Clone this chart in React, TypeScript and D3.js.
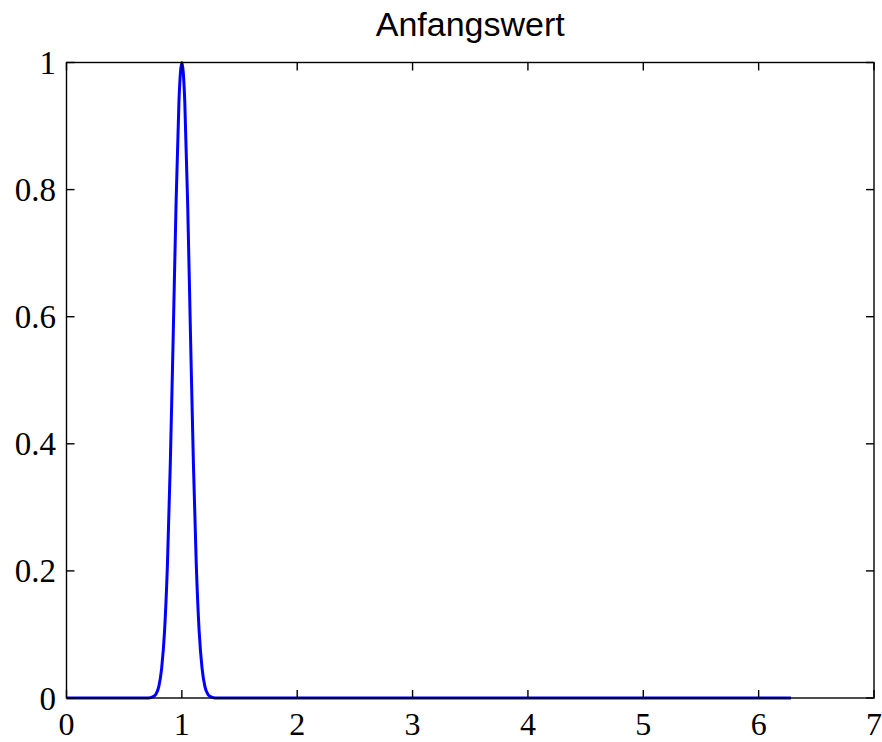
import { useEffect, useRef } from "react"
import * as d3 from "d3"

// values
const xs = [0, 0.5, 0.7, 0.725, 0.75, 0.775, 0.8, 0.825, 0.85, 0.875, 0.9, 0.925, 0.95, 0.975, 1.0,
  1.025, 1.05, 1.075, 1.1, 1.125, 1.15, 1.175, 1.2, 1.225, 1.25, 1.275, 1.3, 1.5, 6.28]
const ys = [0, 0, 0, 0.0005, 0.002, 0.006, 0.018, 0.047, 0.105, 0.21, 0.37, 0.57, 0.78, 0.94, 1.0,
  0.94, 0.78, 0.57, 0.37, 0.21, 0.105, 0.047, 0.018, 0.006, 0.002, 0.0005, 0, 0, 0]

const xTicks = [0, 1, 2, 3, 4, 5, 6, 7]
const yTicks = [0, 0.2, 0.4, 0.6, 0.8, 1]
const title = "Anfangswert"

export default function App() {
  const ref = useRef<SVGSVGElement>(null)

  useEffect(() => {
    const W = 882, H = 742
    const m = { left: 66.5, right: 874, top: 62.5, bottom: 698 }
    const svg = d3.select(ref.current)
    svg.selectAll("*").remove()

    const x = d3.scaleLinear().domain([0, 7]).range([m.left, m.right])
    const y = d3.scaleLinear().domain([0, 1]).range([m.bottom, m.top])
    const tl = 8

    svg.append("rect").attr("width", W).attr("height", H).attr("fill", "#fff")

    // curve
    const pts = xs.map((v, i) => [v, ys[i]] as [number, number])
    const line = d3.line<[number, number]>()
      .x((d) => x(d[0]))
      .y((d) => y(d[1]))
      .curve(d3.curveMonotoneX)
    svg.append("path")
      .attr("d", line(pts))
      .attr("fill", "none")
      .attr("stroke", "#0000ff")
      .attr("stroke-width", 3)
      .attr("stroke-linejoin", "round")

    const g = svg.append("g").attr("stroke", "#000").attr("stroke-width", 1.4)

    // ticks inside, all four sides
    xTicks.forEach((t) => {
      g.append("line").attr("x1", x(t)).attr("x2", x(t)).attr("y1", m.bottom).attr("y2", m.bottom - tl)
      g.append("line").attr("x1", x(t)).attr("x2", x(t)).attr("y1", m.top).attr("y2", m.top + tl)
    })
    yTicks.forEach((t) => {
      g.append("line").attr("x1", m.left).attr("x2", m.left + tl).attr("y1", y(t)).attr("y2", y(t))
      g.append("line").attr("x1", m.right).attr("x2", m.right - tl).attr("y1", y(t)).attr("y2", y(t))
    })

    g.append("rect")
      .attr("x", m.left).attr("y", m.top)
      .attr("width", m.right - m.left).attr("height", m.bottom - m.top)
      .attr("fill", "none")

    const font = "'Liberation Serif', 'Times New Roman', serif"
    svg.append("g").selectAll("text").data(xTicks).enter().append("text")
      .attr("x", (d) => x(d)).attr("y", 735)
      .attr("text-anchor", "middle")
      .attr("font-family", font).attr("font-size", 32)
      .text((d) => String(d))

    svg.append("g").selectAll("text").data(yTicks).enter().append("text")
      .attr("x", 56).attr("y", (d) => y(d) + 11.5)
      .attr("text-anchor", "end")
      .attr("font-family", font).attr("font-size", 33)
      .text((d) => d3.format("")(d))

    svg.append("text")
      .attr("x", (m.left + m.right) / 2).attr("y", 36)
      .attr("text-anchor", "middle")
      .attr("font-family", "'Liberation Sans', Arial, sans-serif")
      .attr("font-size", 34)
      .text(title)
  }, [])

  return (
    <svg
      ref={ref}
      width={882}
      height={742}
      style={{ position: "absolute", left: 0, top: 0, display: "block" }}
    />
  )
}
